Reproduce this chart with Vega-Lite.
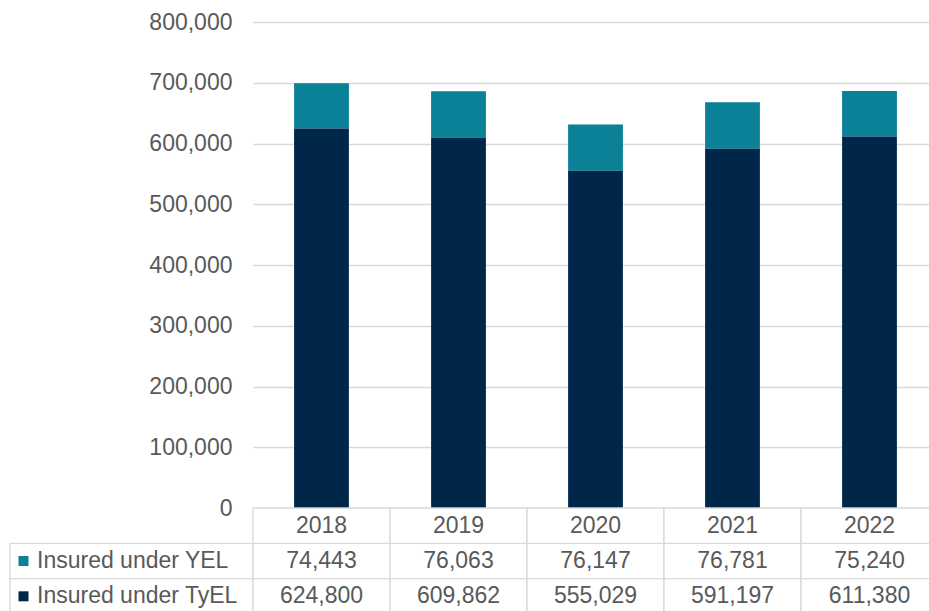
{
  "$schema": "https://vega.github.io/schema/vega-lite/v6.json",
  "background": "white",
  "padding": {"left": 9, "top": 11, "right": 0, "bottom": 0},
  "datasets": {
    "insured": [
      {"year": "2018", "series": "Insured under YEL", "value": 74443},
      {"year": "2019", "series": "Insured under YEL", "value": 76063},
      {"year": "2020", "series": "Insured under YEL", "value": 76147},
      {"year": "2021", "series": "Insured under YEL", "value": 76781},
      {"year": "2022", "series": "Insured under YEL", "value": 75240},
      {"year": "2018", "series": "Insured under TyEL", "value": 624800},
      {"year": "2019", "series": "Insured under TyEL", "value": 609862},
      {"year": "2020", "series": "Insured under TyEL", "value": 555029},
      {"year": "2021", "series": "Insured under TyEL", "value": 591197},
      {"year": "2022", "series": "Insured under TyEL", "value": 611380}
    ],
    "years": [{"year": "2018"}, {"year": "2019"}, {"year": "2020"}, {"year": "2021"}, {"year": "2022"}],
    "series": [{"series": "Insured under YEL"}, {"series": "Insured under TyEL"}]
  },
  "columns": 2,
  "spacing": 0,
  "bounds": "flush",
  "concat": [
    {
      "width": 243,
      "height": 486,
      "data": {"values": []},
      "mark": {"type": "point", "opacity": 0}
    },
    {
      "width": 685,
      "height": 486,
      "data": {"name": "insured"},
      "mark": {"type": "bar"},
      "encoding": {
        "x": {"field": "year", "type": "ordinal", "axis": null, "scale": {"paddingInner": 0.6, "paddingOuter": 0.3}},
        "y": {
          "field": "value", "type": "quantitative", "stack": "zero",
          "scale": {"domain": [0, 800000], "nice": false},
          "axis": {
            "values": [0, 100000, 200000, 300000, 400000, 500000, 600000, 700000, 800000],
            "format": ",.0f", "title": null, "domain": false, "ticks": false,
            "labelPadding": 21, "labelFontSize": 23, "labelColor": "#595959", "labelFont": "Liberation Sans",
            "grid": true, "gridColor": "#d9d9d9", "gridWidth": 1.3
          }
        },
        "color": {
          "field": "series", "type": "nominal",
          "scale": {"domain": ["Insured under YEL", "Insured under TyEL"], "range": ["#0a8196", "#00264a"]},
          "legend": null
        },
        "order": {"field": "series", "sort": "ascending"}
      }
    },
    {
      "width": 243,
      "height": 106,
      "data": {"name": "series"},
      "encoding": {
        "y": {"field": "series", "type": "nominal", "axis": null,
          "scale": {"domain": ["Year", "Insured under YEL", "Insured under TyEL"], "paddingInner": 0, "paddingOuter": 0}}
      },
      "layer": [
        {"mark": {"type": "rect", "fill": "white", "stroke": "#d9d9d9", "strokeWidth": 1.3}},
        {
          "mark": {"type": "point", "shape": "square", "filled": true, "size": 100, "opacity": 1},
          "encoding": {
            "x": {"value": 13.5},
            "color": {"field": "series", "type": "nominal",
              "scale": {"domain": ["Insured under YEL", "Insured under TyEL"], "range": ["#0a8196", "#00264a"]}, "legend": null}
          }
        },
        {
          "mark": {"type": "text", "align": "left", "baseline": "middle", "font": "Liberation Sans", "fontSize": 23, "color": "#595959"},
          "encoding": {"x": {"value": 27}, "text": {"field": "series"}}
        }
      ]
    },
    {
      "width": 685,
      "height": 106,
      "encoding": {
        "x": {"field": "year", "type": "ordinal", "axis": null, "scale": {"paddingInner": 0, "paddingOuter": 0}}
      },
      "layer": [
        {
          "data": {"name": "insured"},
          "mark": {"type": "rect", "fill": "white", "stroke": "#d9d9d9", "strokeWidth": 1.3},
          "encoding": {"y": {"field": "series", "type": "nominal", "axis": null,
            "scale": {"domain": ["Year", "Insured under YEL", "Insured under TyEL"], "paddingInner": 0, "paddingOuter": 0}}}
        },
        {
          "data": {"name": "insured"},
          "mark": {"type": "text", "baseline": "middle", "font": "Liberation Sans", "fontSize": 23, "color": "#595959"},
          "encoding": {
            "y": {"field": "series", "type": "nominal"},
            "text": {"field": "value", "type": "quantitative", "format": ","}
          }
        },
        {
          "data": {"name": "years"},
          "mark": {"type": "rect", "fill": "white", "stroke": "#d9d9d9", "strokeWidth": 1.3},
          "encoding": {"y": {"datum": "Year", "type": "nominal"}}
        },
        {
          "data": {"name": "years"},
          "mark": {"type": "text", "baseline": "middle", "font": "Liberation Sans", "fontSize": 23, "color": "#595959"},
          "encoding": {"y": {"datum": "Year", "type": "nominal"}, "text": {"field": "year"}}
        }
      ]
    }
  ],
  "config": {
    "view": {"stroke": null},
    "font": "Liberation Sans"
  }
}
